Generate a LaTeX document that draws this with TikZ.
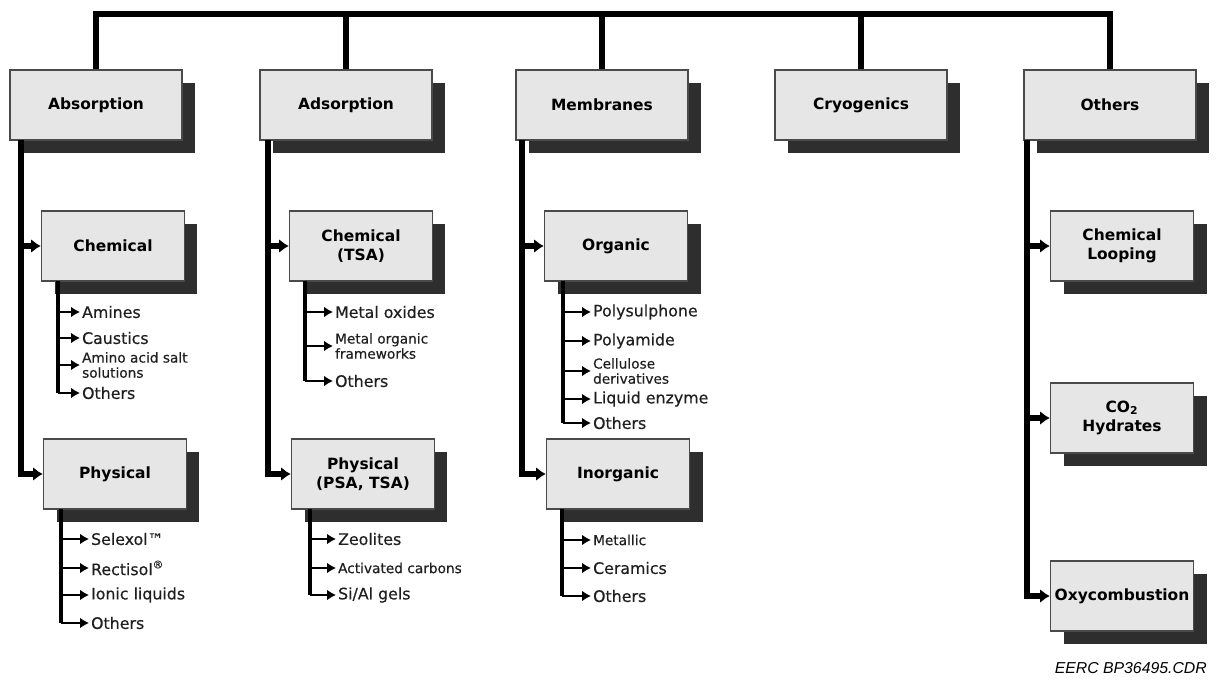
\documentclass[tikz,border=0pt]{standalone}
\usepackage{fontspec}
\setmainfont{DejaVu Sans}
\newfontfamily\itemfont[FakeBold=0.4]{DejaVu Sans}
\newfontfamily\refont{Liberation Sans}
\usepackage{tikz}
\usetikzlibrary{arrows.meta,shadows}
\definecolor{boxgray}{HTML}{E6E6E6}
\definecolor{edgegray}{HTML}{4A4A4A}
\definecolor{shadowgray}{HTML}{2E2E2E}

\begin{document}
\begin{tikzpicture}
    [x=0.02cm,y=-0.02cm,line join=miter,
     bigbox/.style={draw=edgegray,fill=boxgray,line width=0.8pt,inner sep=2pt,
       minimum width=3.44cm,minimum height=1.4cm,align=center,
       font=\fontsize{8.8}{11}\selectfont\bfseries,
       general shadow={fill=shadowgray,shadow xshift=7.4pt,shadow yshift=-7.6pt}},
     subbox/.style={bigbox,minimum width=2.86cm},
     item/.style={anchor=west,inner sep=1pt,text=black!88,font=\itemfont\fontsize{9}{10}\selectfont},
     smallitem/.style={item,align=left,font=\itemfont\fontsize{7.8}{8.6}\selectfont},
     bus/.style={line width=3pt},
     trunk/.style={line width=3pt,-{Latex[length=5.5pt,width=8pt]}},
     subtrunk/.style={line width=2.6pt},
     leg/.style={line width=1.3pt,-{Latex[length=5pt,width=6pt]}}]
\useasboundingbox (0,0) rectangle (1219,679);

%main groups
\node[bigbox] (absorb) at (96,105) {Absorption};
\node[bigbox] (adsorb) at (346,105) {Adsorption};
\node[bigbox] (membr) at (602,105) {Membranes};
\node[bigbox] (cryo) at (861,105) {Cryogenics};
\node[bigbox] (others) at (1110,105) {Others};

%top bus
\coordinate (busline) at (0,14);
\draw[bus] (absorb.north) -- (absorb.north |- busline) -- (others.north |- busline) -- (others.north);
\foreach \n in {adsorb,membr,cryo}
    \draw[bus] (\n.north) -- (\n.north |- busline);

%second level
\node[subbox] (chemAbs) at (113,246) {Chemical};
\node[subbox] (physAbs) at (115,474) {Physical};
\node[subbox] (chemAds) at (361,246) {Chemical\\(TSA)};
\node[subbox] (physAds) at (363,474) {Physical\\(PSA, TSA)};
\node[subbox] (organic) at (616,246) {Organic};
\node[subbox] (inorg) at (618,474) {Inorganic};
\node[subbox] (chemLoop) at (1122,246) {Chemical\\Looping};
\node[subbox] (hydr) at (1122,418) {CO\textsubscript{2}\\Hydrates};
\node[subbox] (oxyc) at (1122,596) {Oxycombustion};

%trunks from the main groups
\coordinate (absT) at (21,140);
\coordinate (adsT) at (268,140);
\coordinate (memT) at (522,140);
\coordinate (othT) at (1027,140);
\draw[trunk] (absT) |- (chemAbs.west);
\draw[trunk] (absT) |- (physAbs.west);
\draw[trunk] (adsT) |- (chemAds.west);
\draw[trunk] (adsT) |- (physAds.west);
\draw[trunk] (memT) |- (organic.west);
\draw[trunk] (memT) |- (inorg.west);
\draw[trunk] (othT) |- (chemLoop.west);
\draw[trunk] (othT) |- (hydr.west);
\draw[trunk] (othT) |- (oxyc.west);

%absorption items
\node[item] (amines) at (80,312) {Amines};
\node[item] (caustics) at (80,338) {Caustics};
\node[smallitem] (amino) at (80,365) {Amino acid salt\\solutions};
\node[item] (othChem) at (80,393) {Others};
\node[item] (selexol) at (89,539) {Selexol™};
\node[item] (rectisol) at (89,568) {Rectisol\textsuperscript{®}};
\node[item] (ionic) at (89,595) {Ionic liquids};
\node[item] (othPhys) at (89,623) {Others};

%adsorption items
\node[item] (oxides) at (333,312) {Metal oxides};
\node[smallitem] (mof) at (333,346) {Metal organic\\frameworks};
\node[item] (othTSA) at (333,381) {Others};
\node[item] (zeol) at (336,539) {Zeolites};
\node[smallitem] (carbons) at (336,568) {Activated carbons};
\node[item] (gels) at (336,595) {Si/Al gels};

%membrane items
\node[item] (psulph) at (591,312) {Polysulphone};
\node[item] (pamide) at (591,341) {Polyamide};
\node[smallitem] (cellu) at (591,371) {Cellulose\\derivatives};
\node[item] (enzyme) at (591,399) {Liquid enzyme};
\node[item] (othOrg) at (591,423) {Others};
\node[smallitem] (metallic) at (591,540) {Metallic};
\node[item] (ceram) at (591,568) {Ceramics};
\node[item] (othInorg) at (591,596) {Others};

%item legs
\coordinate (cChemAbs) at (58,281);
\coordinate (cPhysAbs) at (61,509);
\coordinate (cChemAds) at (305,281);
\coordinate (cPhysAds) at (310,509);
\coordinate (cOrg) at (563,281);
\coordinate (cInorg) at (562,509);
\draw[subtrunk] (cChemAbs) -- (cChemAbs |- othChem.west);
\draw[subtrunk] (cPhysAbs) -- (cPhysAbs |- othPhys.west);
\draw[subtrunk] (cChemAds) -- (cChemAds |- othTSA.west);
\draw[subtrunk] (cPhysAds) -- (cPhysAds |- gels.west);
\draw[subtrunk] (cOrg) -- (cOrg |- othOrg.west);
\draw[subtrunk] (cInorg) -- (cInorg |- othInorg.west);
\foreach \i in {amines,caustics,amino,othChem}
    \draw[leg] (cChemAbs |- \i.west) -- (\i.west);
\foreach \i in {selexol,rectisol,ionic,othPhys}
    \draw[leg] (cPhysAbs |- \i.west) -- (\i.west);
\foreach \i in {oxides,mof,othTSA}
    \draw[leg] (cChemAds |- \i.west) -- (\i.west);
\foreach \i in {zeol,carbons,gels}
    \draw[leg] (cPhysAds |- \i.west) -- (\i.west);
\foreach \i in {psulph,pamide,cellu,enzyme,othOrg}
    \draw[leg] (cOrg |- \i.west) -- (\i.west);
\foreach \i in {metallic,ceram,othInorg}
    \draw[leg] (cInorg |- \i.west) -- (\i.west);

\node[anchor=east,font=\refont\itshape\fontsize{9}{10}\selectfont] (drawno) at (1213,668) {EERC BP36495.CDR};
\end{tikzpicture}
\end{document}
